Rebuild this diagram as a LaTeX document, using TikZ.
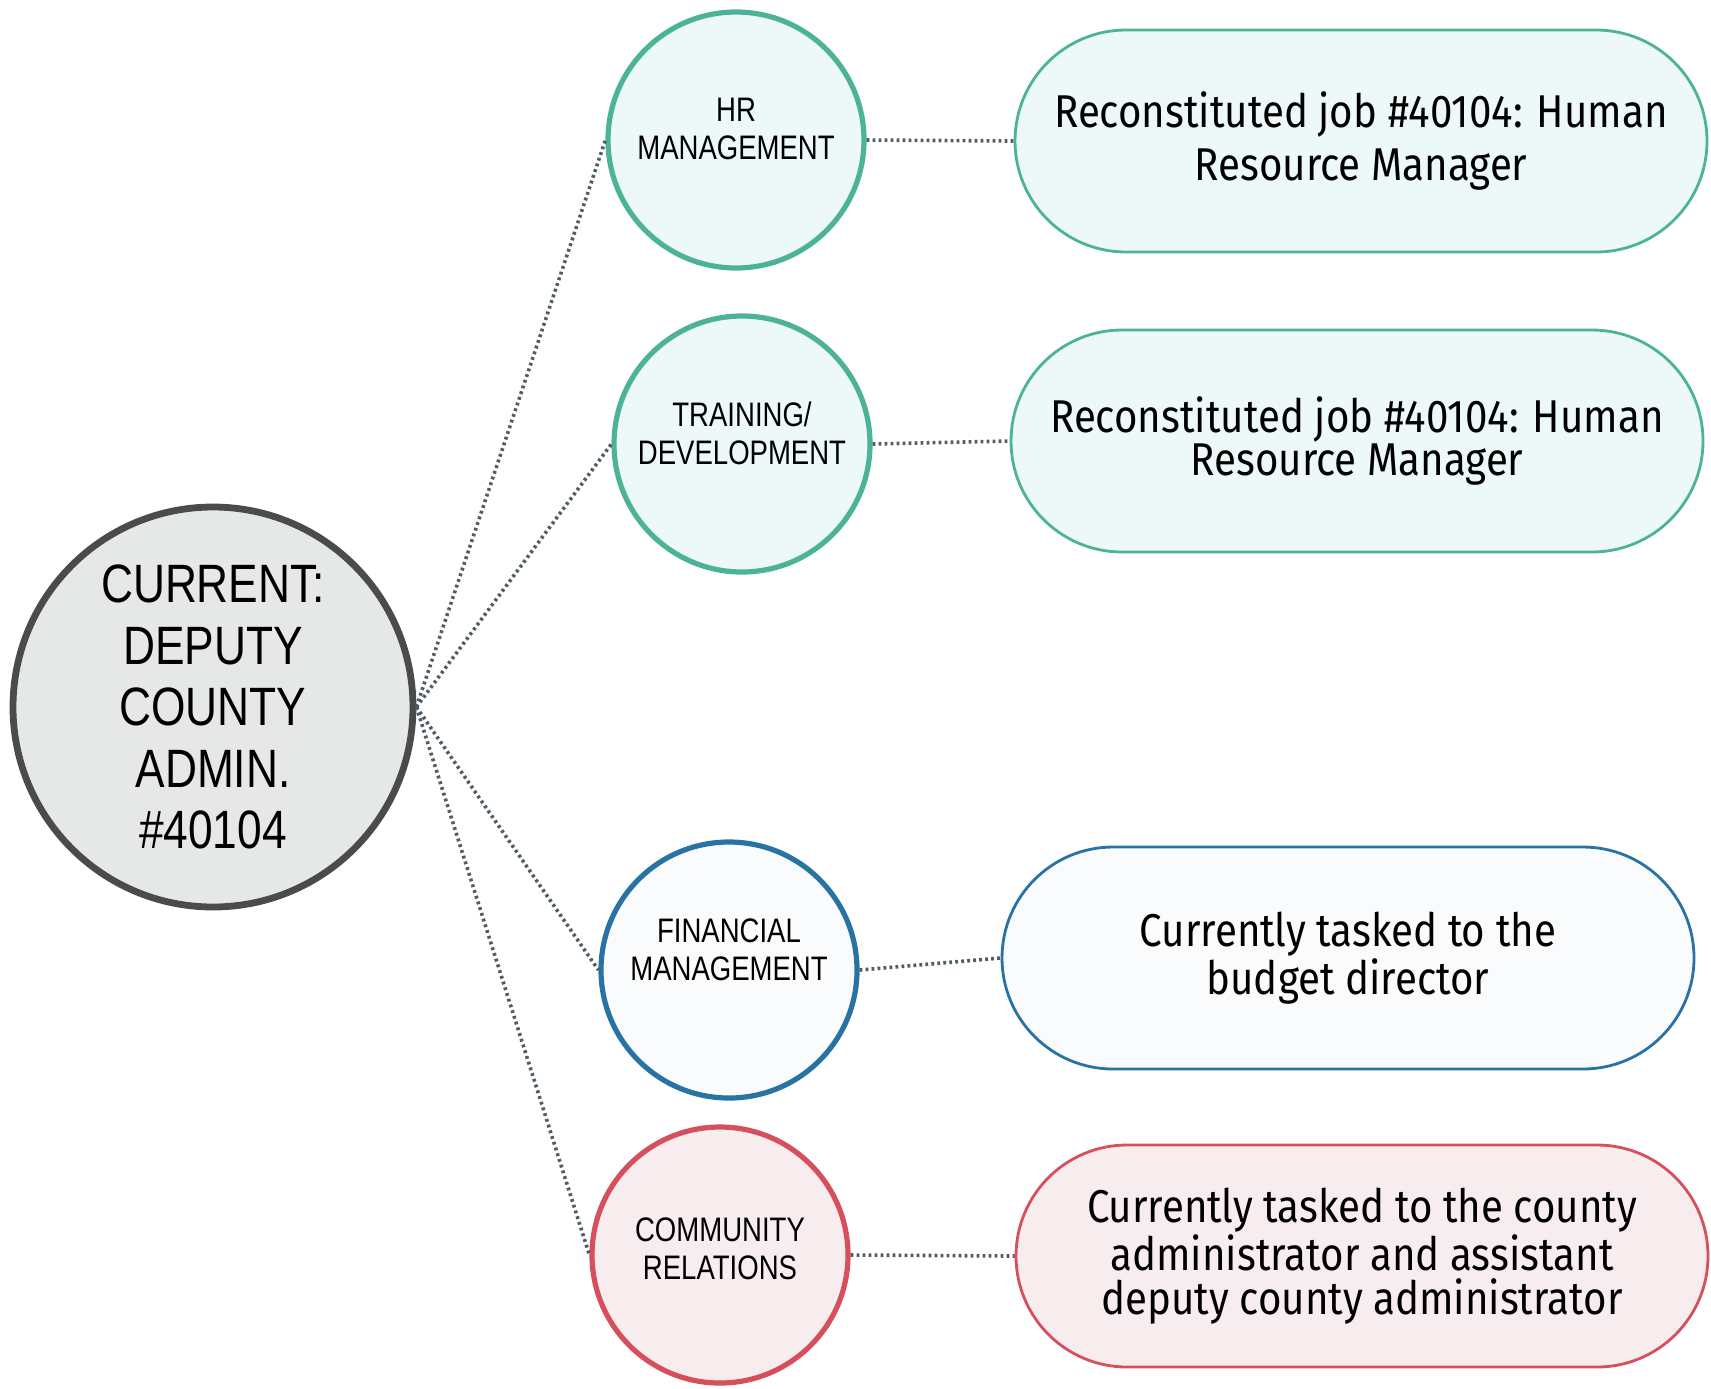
\documentclass[tikz,border=0pt]{standalone}
\usepackage{fontspec}
\setmainfont{Fira Sans}
\newfontfamily\narrowfont[FakeStretch=0.82]{Liberation Sans}
\newfontfamily\smallnarrow[FakeStretch=0.81]{Liberation Sans}
\newfontfamily\jobfont[FakeStretch=0.875]{Fira Sans}
\usetikzlibrary{shapes.misc}

\definecolor{admline}{HTML}{4A4B4C}
\definecolor{admfill}{HTML}{E5E8E6}
\definecolor{hrline}{HTML}{4DB396}
\definecolor{hrfill}{HTML}{EDF8F8}
\definecolor{finline}{HTML}{2873A3}
\definecolor{finfill}{HTML}{F9FBFD}
\definecolor{comline}{HTML}{D64F5C}
\definecolor{comfill}{HTML}{F8EDEE}
\definecolor{dotgray}{HTML}{4E5C63}

\tikzset{
  area/.style={circle, draw=#1line, fill=#1fill, line width=2.6pt, minimum size=128pt,
    inner sep=0pt, align=center, text depth=11pt, font=\smallnarrow\fontsize{17}{19}\selectfont},
  job/.style={rounded rectangle, draw=#1line, fill=#1fill, line width=1.4pt,
    minimum width=346pt, minimum height=111pt, inner sep=0pt, align=center,
    font=\jobfont\fontsize{23}{21.8}\selectfont},
  link/.style={dotgray, line width=1.8pt, dash pattern=on 1.4pt off 1.6pt}
}

\begin{document}
\begin{tikzpicture}[x=0.5pt,y=-0.5pt]
            \useasboundingbox (0,0) rectangle (1711,1388);

            % the current position
            \node[circle, draw=admline, fill=admfill, line width=3.4pt, minimum size=200pt,
                  inner sep=0pt, align=center, font=\narrowfont\fontsize{27}{30.8}\selectfont]
                  (adm) at (213,707) {CURRENT:\\DEPUTY\\COUNTY\\ADMIN.\\\#40104};

            % the four duties
            \node[area=hr]  (hr)    at (736,140)  {HR\\MANAGEMENT};
            \node[area=hr]  (train) at (742,444)  {TRAINING/\\DEVELOPMENT};
            \node[area=fin, text depth=20pt] (fin) at (729,970) {FINANCIAL\\MANAGEMENT};
            \node[area=com, text depth=6pt]  (comm) at (720,1255) {COMMUNITY\\RELATIONS};

            % where each duty goes
            \node[job=hr, font=\jobfont\fontsize{23}{26.7}\selectfont]
                  (jobhr) at (1361,141) {Reconstituted job \#40104: Human\\Resource Manager};
            \node[job=hr]  (jobtrain) at (1357,441)  {Reconstituted job \#40104: Human\\Resource Manager};
            \node[job=fin] (jobfin)   at (1348,958)  {Currently tasked to the\\budget director};
            \node[job=com] (jobcomm)  at (1362,1256) {Currently tasked to the county\\administrator and assistant\\deputy county administrator};

            % dotted links
            \draw[link] (adm.east) -- (hr.west);
            \draw[link] (adm.east) -- (train.west);
            \draw[link] (adm.east) -- (fin.west);
            \draw[link] (adm.east) -- (comm.west);

            \draw[link] (hr.east) -- (jobhr.west);
            \draw[link] (train.east) -- (jobtrain.west);
            \draw[link] (fin.east) -- (jobfin.west);
            \draw[link] (comm.east) -- (jobcomm.west);
        \end{tikzpicture}
\end{document}
